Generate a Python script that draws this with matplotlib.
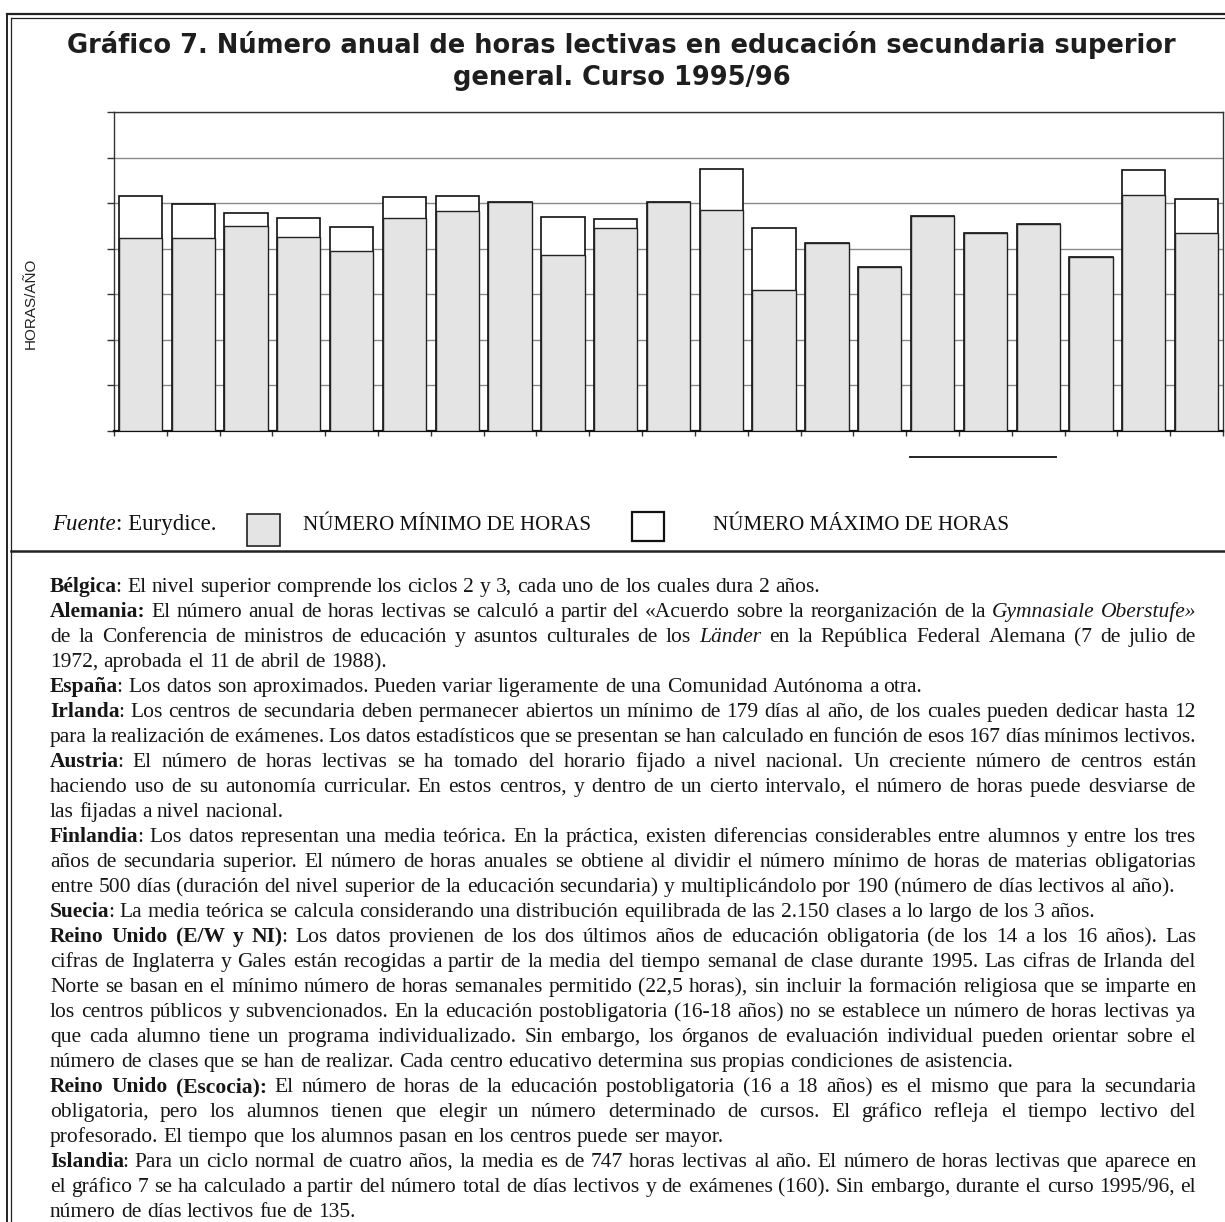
import matplotlib
matplotlib.use("Agg")
import matplotlib.pyplot as plt
from matplotlib.lines import Line2D
from matplotlib.patches import Rectangle

# ---------------- data (hours per year) ----------------
countries = ["B", "DK", "D", "EL", "E", "F", "IRL", "I", "L", "NL", "A",
             "P", "FIN", "S", "UK (E/W/NI)", "UK (SC)", "IS", "LI", "NO", "C1", "C2"]
min_hours = [848, 848, 901, 851, 790, 936, 964, 1004, 774, 892, 1006,
             970, 618, 825, 720, 944, 868, 908, 762, 1036, 869]
max_hours = [1031, 998, 958, 935, 897, 1027, 1030, 1004, 938, 929, 1006,
             1149, 891, 825, 720, 944, 868, 908, 762, 1146, 1017]
y_ticks = [0, 200, 400, 600, 800, 1000, 1200, 1400]

title_lines = ["Gráfico 7. Número anual de horas lectivas en educación secundaria superior",
               "general. Curso 1995/96"]
ylabel = "HORAS/AÑO"
legend_min = "NÚMERO MÍNIMO DE HORAS"
legend_max = "NÚMERO MÁXIMO DE HORAS"

# notes: *bold*, _italic_ ; (text, justified)
notes = [
    ("*Bélgica*: El nivel superior comprende los ciclos 2 y 3, cada uno de los cuales dura 2 años.", False),
    ("*Alemania:* El número anual de horas lectivas se calculó a partir del «Acuerdo sobre la reorganización de la _Gymnasiale Oberstufe»_", True),
    ("de la Conferencia de ministros de educación y asuntos culturales de los _Länder_ en la República Federal Alemana (7 de julio de", True),
    ("1972, aprobada el 11 de abril de 1988).", False),
    ("*España*: Los datos son aproximados. Pueden variar ligeramente de una Comunidad Autónoma a otra.", False),
    ("*Irlanda*: Los centros de secundaria deben permanecer abiertos un mínimo de 179 días al año, de los cuales pueden dedicar hasta 12", True),
    ("para la realización de exámenes. Los datos estadísticos que se presentan se han calculado en función de esos 167 días mínimos lectivos.", True),
    ("*Austria*: El número de horas lectivas se ha tomado del horario fijado a nivel nacional. Un creciente número de centros están", True),
    ("haciendo uso de su autonomía curricular. En estos centros, y dentro de un cierto intervalo, el número de horas puede desviarse de", True),
    ("las fijadas a nivel nacional.", False),
    ("*Finlandia*: Los datos representan una media teórica. En la práctica, existen diferencias considerables entre alumnos y entre los tres", True),
    ("años de secundaria superior. El número de horas anuales se obtiene al dividir el número mínimo de horas de materias obligatorias", True),
    ("entre 500 días (duración del nivel superior de la educación secundaria) y multiplicándolo por 190 (número de días lectivos al año).", False),
    ("*Suecia*: La media teórica se calcula considerando una distribución equilibrada de las 2.150 clases a lo largo de los 3 años.", False),
    ("*Reino Unido (E/W y NI)*: Los datos provienen de los dos últimos años de educación obligatoria (de los 14 a los 16 años). Las", True),
    ("cifras de Inglaterra y Gales están recogidas a partir de la media del tiempo semanal de clase durante 1995. Las cifras de Irlanda del", True),
    ("Norte se basan en el mínimo número de horas semanales permitido (22,5 horas), sin incluir la formación religiosa que se imparte en", True),
    ("los centros públicos y subvencionados. En la educación postobligatoria (16-18 años) no se establece un número de horas lectivas ya", True),
    ("que cada alumno tiene un programa individualizado. Sin embargo, los órganos de evaluación individual pueden orientar sobre el", True),
    ("número de clases que se han de realizar. Cada centro educativo determina sus propias condiciones de asistencia.", False),
    ("*Reino Unido (Escocia):* El número de horas de la educación postobligatoria (16 a 18 años) es el mismo que para la secundaria", True),
    ("obligatoria, pero los alumnos tienen que elegir un número determinado de cursos. El gráfico refleja el tiempo lectivo del", True),
    ("profesorado. El tiempo que los alumnos pasan en los centros puede ser mayor.", False),
    ("*Islandia*: Para un ciclo normal de cuatro años, la media es de 747 horas lectivas al año. El número de horas lectivas que aparece en", True),
    ("el gráfico 7 se ha calculado a partir del número total de días lectivos y de exámenes (160). Sin embargo, durante el curso 1995/96, el", True),
    ("número de días lectivos fue de 135.", False),
]

# ---------------- figure ----------------
W, H = 1225, 1222
fig = plt.figure(figsize=(W / 100, H / 100), dpi=100)
fig.patch.set_facecolor("white")

def fx(px):
    return px / W

def fy(py):
    return 1 - py / H

serif = "Liberation Serif"

# frame lines
frame_kw = dict(color="#222222", transform=fig.transFigure)
fig.add_artist(Line2D([fx(7), fx(1225)], [fy(14), fy(14)], lw=1.6, **frame_kw))
fig.add_artist(Line2D([fx(11), fx(1225)], [fy(18), fy(18)], lw=0.9, **frame_kw))
fig.add_artist(Line2D([fx(7), fx(7)], [fy(14), fy(1222)], lw=1.4, **frame_kw))
fig.add_artist(Line2D([fx(11), fx(11)], [fy(18), fy(1222)], lw=0.9, **frame_kw))
fig.add_artist(Line2D([fx(11), fx(1225)], [fy(551), fy(551)], lw=1.8, **frame_kw))
fig.add_artist(Line2D([fx(910), fx(1056)], [fy(457), fy(457)], lw=1.4, **frame_kw))

# ---------------- axes ----------------
ax = fig.add_axes([fx(114), fy(431), fx(1223) - fx(114), fy(112) - fy(431)])
x = list(range(len(countries)))
bar_w = 0.82
ax.bar(x, max_hours, width=bar_w, color="white", edgecolor="#111111", linewidth=1.2, zorder=2)
ax.bar(x, min_hours, width=bar_w, color="#e4e4e4", edgecolor="#222222", linewidth=1.0, zorder=3)
ax.set_xlim(-0.5, 20.48)
ax.set_ylim(0, 1400)
ax.set_yticks(y_ticks)
ax.set_yticklabels([])
ax.set_xticks([i + 0.5 for i in range(-1, len(countries))])
ax.set_xticklabels([])
ax.tick_params(axis="y", direction="out", length=5, width=1.0, color="#333333")
ax.tick_params(axis="x", direction="out", length=3.5, width=1.0, color="#333333")
ax.yaxis.grid(True, color="#8a8a8a", linewidth=1.0, zorder=0)
ax.set_axisbelow(True)
for side in ["left", "top", "right"]:
    ax.spines[side].set_color("#333333")
    ax.spines[side].set_linewidth(1.0)
ax.spines["bottom"].set_color("#111111")
ax.spines["bottom"].set_linewidth(1.6)

fig.text(fx(31), fy(303), ylabel, rotation=90, ha="center", va="center",
         family="Liberation Sans", fontsize=11, color="#222222")

# ---------------- fitted texts ----------------
fig.canvas.draw()
rend = fig.canvas.get_renderer()

def width_of(s, **kw):
    t = fig.text(0, 0, s, **kw)
    w = t.get_window_extent(rend).width
    t.remove()
    return w

def advance_of(s, **kw):
    return width_of("H" + s + "H", **kw) - width_of("HH", **kw)

def fit_size(s, target_px, base=20, **kw):
    return base * target_px / width_of(s, fontsize=base, **kw)

# title
tkw = dict(family="DejaVu Sans", weight="bold")
tsize = fit_size(title_lines[0], 1110, **tkw)
fig.text(fx(621), fy(53), title_lines[0], ha="center", va="baseline",
         fontsize=tsize, color="#1e1e1e", **tkw)
fig.text(fx(622), fy(85), title_lines[1], ha="center", va="baseline",
         fontsize=tsize, color="#1e1e1e", **tkw)

# legend row
lsize = fit_size(legend_min, 287, family=serif)
fig.text(fx(52), fy(530), "Fuente", ha="left", va="baseline", family=serif,
         style="italic", fontsize=16.5, color="#111111")
wf = advance_of("Fuente", family=serif, style="italic", fontsize=16.5)
fig.text(fx(52) + wf / W, fy(530), ": Eurydice.", ha="left", va="baseline",
         family=serif, fontsize=16.5, color="#111111")
fig.add_artist(Rectangle((fx(247), fy(546)), fx(280) - fx(247), fy(514) - fy(546),
                         transform=fig.transFigure, facecolor="#e4e4e4",
                         edgecolor="#222222", linewidth=1.2))
fig.text(fx(303), fy(530), legend_min, ha="left", va="baseline", family=serif,
         fontsize=lsize, color="#111111")
fig.add_artist(Rectangle((fx(632), fy(541)), fx(664) - fx(632), fy(512) - fy(541),
                         transform=fig.transFigure, facecolor="white",
                         edgecolor="#111111", linewidth=1.6))
fig.text(fx(713), fy(530), legend_max, ha="left", va="baseline", family=serif,
         fontsize=lsize, color="#111111")

# ---------------- notes (justified) ----------------
def parse(line):
    words = []
    cur = []
    buf = ""
    bold = False
    ital = False

    def style():
        return "b" if bold else ("i" if ital else "r")

    for ch in line:
        if ch == "*":
            if buf:
                cur.append((buf, style()))
                buf = ""
            bold = not bold
        elif ch == "_":
            if buf:
                cur.append((buf, style()))
                buf = ""
            ital = not ital
        elif ch == " ":
            if buf:
                cur.append((buf, style()))
                buf = ""
            if cur:
                words.append(cur)
                cur = []
        else:
            buf += ch
    if buf:
        cur.append((buf, style()))
    if cur:
        words.append(cur)
    return words

nsize = 15.5
style_kw = {
    "r": dict(family=serif, fontsize=nsize),
    "b": dict(family=serif, fontsize=nsize, weight="bold"),
    "i": dict(family=serif, fontsize=nsize, style="italic"),
}
space_w = advance_of(" ", **style_kw["r"])
left_px, right_px = 50, 1196
for li, (line, just) in enumerate(notes):
    base_y = 592 + 25.0 * li
    words = parse(line)
    widths = []
    for wd in words:
        ws = []
        for k, (t, s) in enumerate(wd):
            if k == len(wd) - 1:
                ws.append(width_of(t, **style_kw[s]))
            else:
                ws.append(advance_of(t, **style_kw[s]) - 1.5)
        widths.append(ws)
    total = sum(sum(w) for w in widths)
    if just and len(words) > 1:
        gap = (right_px - left_px - total) / (len(words) - 1)
    else:
        gap = space_w
    xpos = left_px
    for wd, ws in zip(words, widths):
        xx = xpos
        for (t, s), w in zip(wd, ws):
            fig.text(fx(xx), fy(base_y), t, ha="left", va="baseline",
                     color="#161616", **style_kw[s])
            xx += w
        xpos = xx + gap

fig.savefig("out.png", dpi=100, facecolor="white")
